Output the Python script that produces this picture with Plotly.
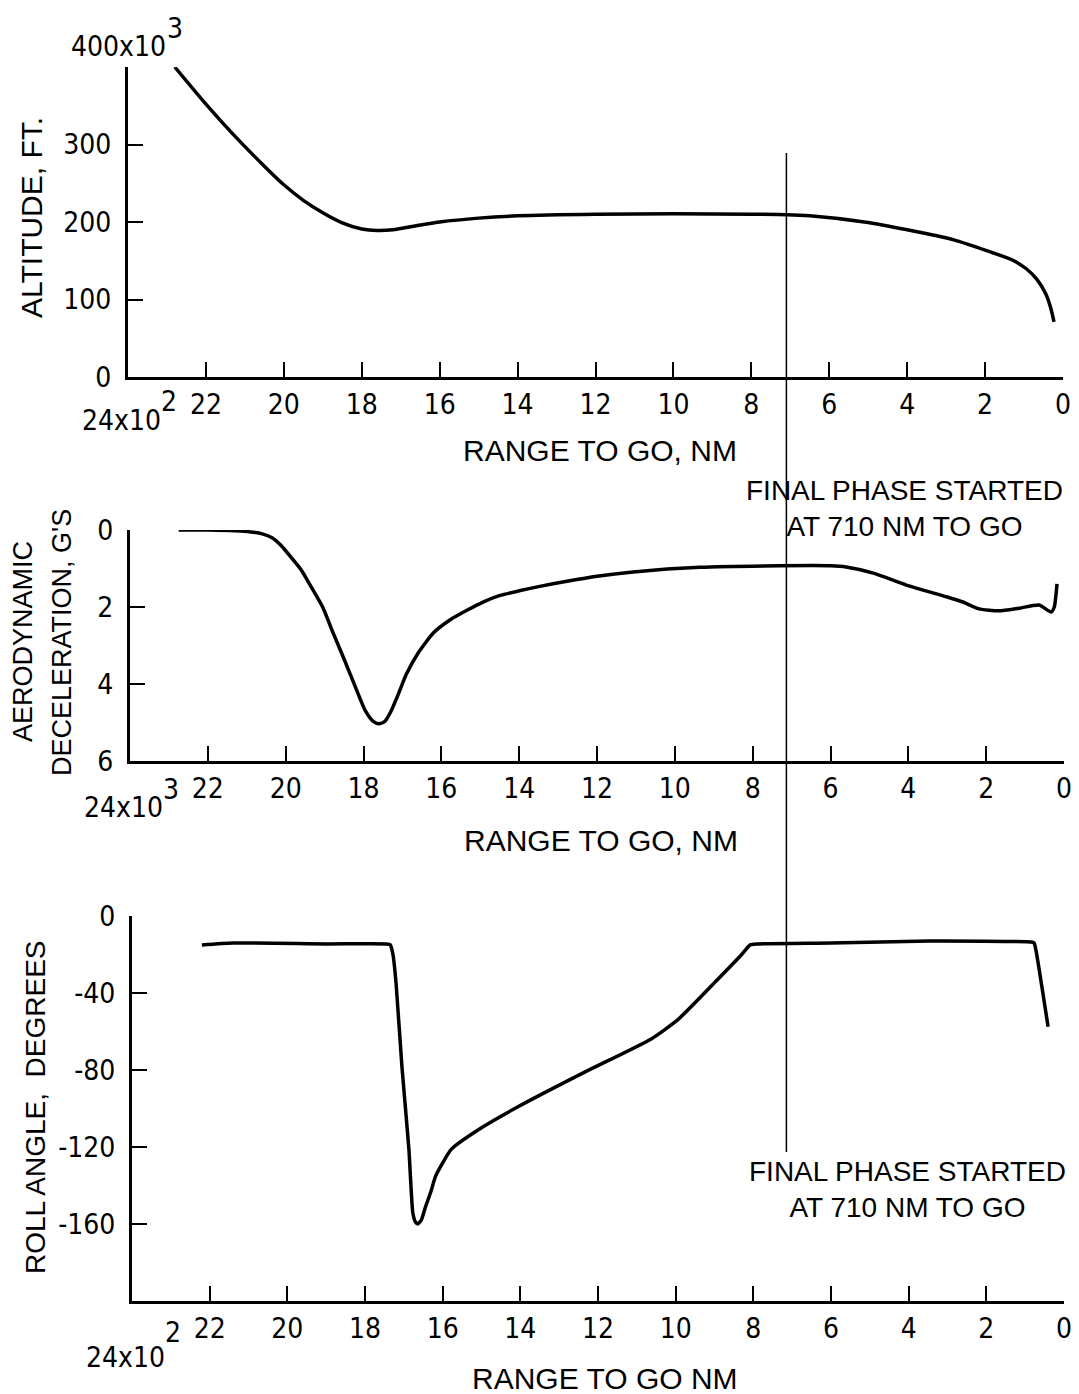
import plotly.graph_objects as go

# ---------------- data ----------------
# x: range to go in hundreds of NM
x_alt = [22.8, 22.0, 21.3, 20.5, 20.0, 19.5, 19.0, 18.5, 18.0, 17.6, 17.2, 16.5, 16.0, 15.0, 14.0,
         12.0, 10.0, 8.0, 7.1, 6.5, 5.1, 4.0, 2.8, 1.9, 1.3, 0.95, 0.67, 0.45, 0.32, 0.23]
y_alt = [400, 352, 313, 272, 248, 228, 212, 199, 191, 189, 190, 196, 200, 205, 208,
         210, 210.5, 210, 209.5, 208, 200, 190, 177, 162, 151, 140, 126, 108, 90, 71]  # x10^3 ft

x_dec = [22.75, 22.0, 21.3, 20.9, 20.6, 20.35, 20.1, 19.87, 19.6, 19.36, 19.05, 18.77, 18.5, 18.2,
         17.95, 17.75, 17.6, 17.45, 17.3, 17.1, 16.9, 16.6, 16.2, 15.8, 15.33, 14.9, 14.49, 14.0,
         13.5, 12.77, 12.0, 11.07, 9.36, 7.3, 6.0, 5.6, 4.9, 4.05, 3.0, 2.6, 2.18, 1.67, 1.15,
         0.64, 0.33, 0.25, 0.18]
y_dec = [0, 0, 0.02, 0.05, 0.1, 0.2, 0.42, 0.7, 1.04, 1.45, 2.0, 2.7, 3.35, 4.1,
         4.7, 4.97, 5.03, 4.97, 4.72, 4.25, 3.75, 3.2, 2.67, 2.35, 2.08, 1.86, 1.70, 1.58,
         1.47, 1.33, 1.2, 1.09, 0.97, 0.93, 0.93, 0.96, 1.12, 1.43, 1.74, 1.87, 2.05, 2.1, 2.03,
         1.95, 2.13, 2.0, 1.4]  # G's

x_roll = [22.2, 21.4, 19.0, 17.45, 17.35, 17.28, 17.2, 17.05, 16.87, 16.77, 16.7, 16.64, 16.55,
          16.44, 16.3, 16.18, 15.77, 15.08, 14.05, 12.33, 10.64, 9.95, 8.92, 8.3, 8.08, 7.9, 6.0,
          3.46, 0.85, 0.77, 0.72, 0.41]
y_roll = [-15, -14, -14.5, -14.5, -15, -20, -35, -78, -121, -154, -159, -160, -158,
          -151, -143, -135, -121, -111, -99, -81, -64, -54, -33, -20, -15, -14.5, -14,
          -13, -13.5, -14, -18, -57.5]  # degrees

x_ticks = [22, 20, 18, 16, 14, 12, 10, 8, 6, 4, 2, 0]
alt_ticks = [0, 100, 200, 300, 400]
alt_ticktext = ["0", "100", "200", "300", ""]
dec_ticks = [0, 2, 4, 6]
roll_ticks = [0, -40, -80, -120, -160]
roll_ticktext = ["0", "-40", "-80", "-120", "-160"]
final_phase_x = 7.1
note_text = "FINAL PHASE STARTED<br>AT 710 NM TO GO"

# ---------------- layout helpers ----------------
# the page body has an 8px margin, so the figure is drawn 8px in from the top-left corner
OFF = 8
W, H = 1079 - OFF, 1394 - OFF
def px(v):
    return (v - OFF) / W
def py(v):
    return 1 - (v - OFF) / H

TICKFONT = dict(family="DejaVu Sans Condensed, DejaVu Sans", size=28, color="black")
TXTFONT = dict(family="Liberation Sans, Arial", size=30, color="black")
YT2FONT = dict(family="Liberation Sans, Arial", size=27, color="black")
YT3FONT = dict(family="Liberation Sans, Arial", size=28, color="black")
NOTEFONT = dict(family="Liberation Sans, Arial", size=28, color="black")

fig = go.Figure()
line = dict(color="black", width=3.5)
fig.add_trace(go.Scatter(x=x_alt, y=y_alt, mode="lines", line=dict(line, shape="spline", smoothing=0.6),
                         xaxis="x", yaxis="y", showlegend=False))
fig.add_trace(go.Scatter(x=x_dec, y=y_dec, mode="lines", line=dict(line, shape="spline", smoothing=0.6),
                         xaxis="x2", yaxis="y2", showlegend=False))
fig.add_trace(go.Scatter(x=x_roll, y=y_roll, mode="lines", line=dict(line, shape="spline", smoothing=0.5),
                         xaxis="x3", yaxis="y3", showlegend=False))

common = dict(showline=True, linewidth=3, linecolor="black", ticks="inside", ticklen=15,
              tickwidth=2, tickcolor="black", showgrid=False, zeroline=False, tickfont=TICKFONT,
              automargin=False)

xcommon = dict(common, range=[24, 0], tickvals=x_ticks, ticklabelstandoff=0)

fig.update_layout(
    width=W, height=H, margin=dict(l=0, r=0, t=0, b=0, autoexpand=False),
    paper_bgcolor="white", plot_bgcolor="white",
    xaxis=dict(xcommon, domain=[px(128), px(1063)], anchor="y"),
    yaxis=dict(common, domain=[py(377), py(67)], range=[0, 400], tickvals=alt_ticks,
               ticktext=alt_ticktext, anchor="x", ticklabelstandoff=8),
    xaxis2=dict(xcommon, domain=[px(130), px(1064)], anchor="y2"),
    yaxis2=dict(common, domain=[py(761), py(530)], range=[6, 0], tickvals=dec_ticks,
                anchor="x2", ticklabelstandoff=8),
    xaxis3=dict(xcommon, domain=[px(132), px(1064)], anchor="y3"),
    yaxis3=dict(common, domain=[py(1301), py(916)], range=[-200, 0], tickvals=roll_ticks,
                ticktext=roll_ticktext, anchor="x3", ticklabelstandoff=8),
)

fig.add_shape(type="line", xref="x", yref="paper", x0=final_phase_x, x1=final_phase_x,
              y0=py(1152), y1=py(153), line=dict(color="black", width=1.5))

ann = []
def A(text, x, y, font=TXTFONT, xanchor="center", yanchor="middle", angle=0):
    ann.append(dict(text=text, x=px(x), y=py(y), xref="paper", yref="paper", showarrow=False,
                    font=font, xanchor=xanchor, yanchor=yanchor, textangle=angle))

# exponent labels
A("400x10", 168, 46, TICKFONT, xanchor="right")
A("3", 165, 29, TICKFONT, xanchor="left")
A("24x10", 163, 420, TICKFONT, xanchor="right")
A("2", 159, 401, TICKFONT, xanchor="left")
A("24x10", 165, 807, TICKFONT, xanchor="right")
A("3", 161, 790, TICKFONT, xanchor="left")
A("24x10", 167, 1357, TICKFONT, xanchor="right")
A("2", 163, 1332, TICKFONT, xanchor="left")

# axis titles
A("RANGE TO GO, NM", 600, 450)
A("RANGE TO GO, NM", 601, 840)
A("RANGE TO GO NM", 605, 1378)
A("ALTITUDE, FT.", 32, 218, angle=-90)
A("AERODYNAMIC", 23, 642, YT2FONT, angle=-90)
A("DECELERATION, G'S", 62, 643, YT2FONT, angle=-90)
A("ROLL ANGLE,  DEGREES", 35, 1107, YT3FONT, angle=-90)

# notes
A(note_text, 904, 508, NOTEFONT)
A(note_text, 907, 1189, NOTEFONT)

fig.update_layout(annotations=ann)
fig.write_html("out.html", post_script="document.body.style.overflow='hidden';")
